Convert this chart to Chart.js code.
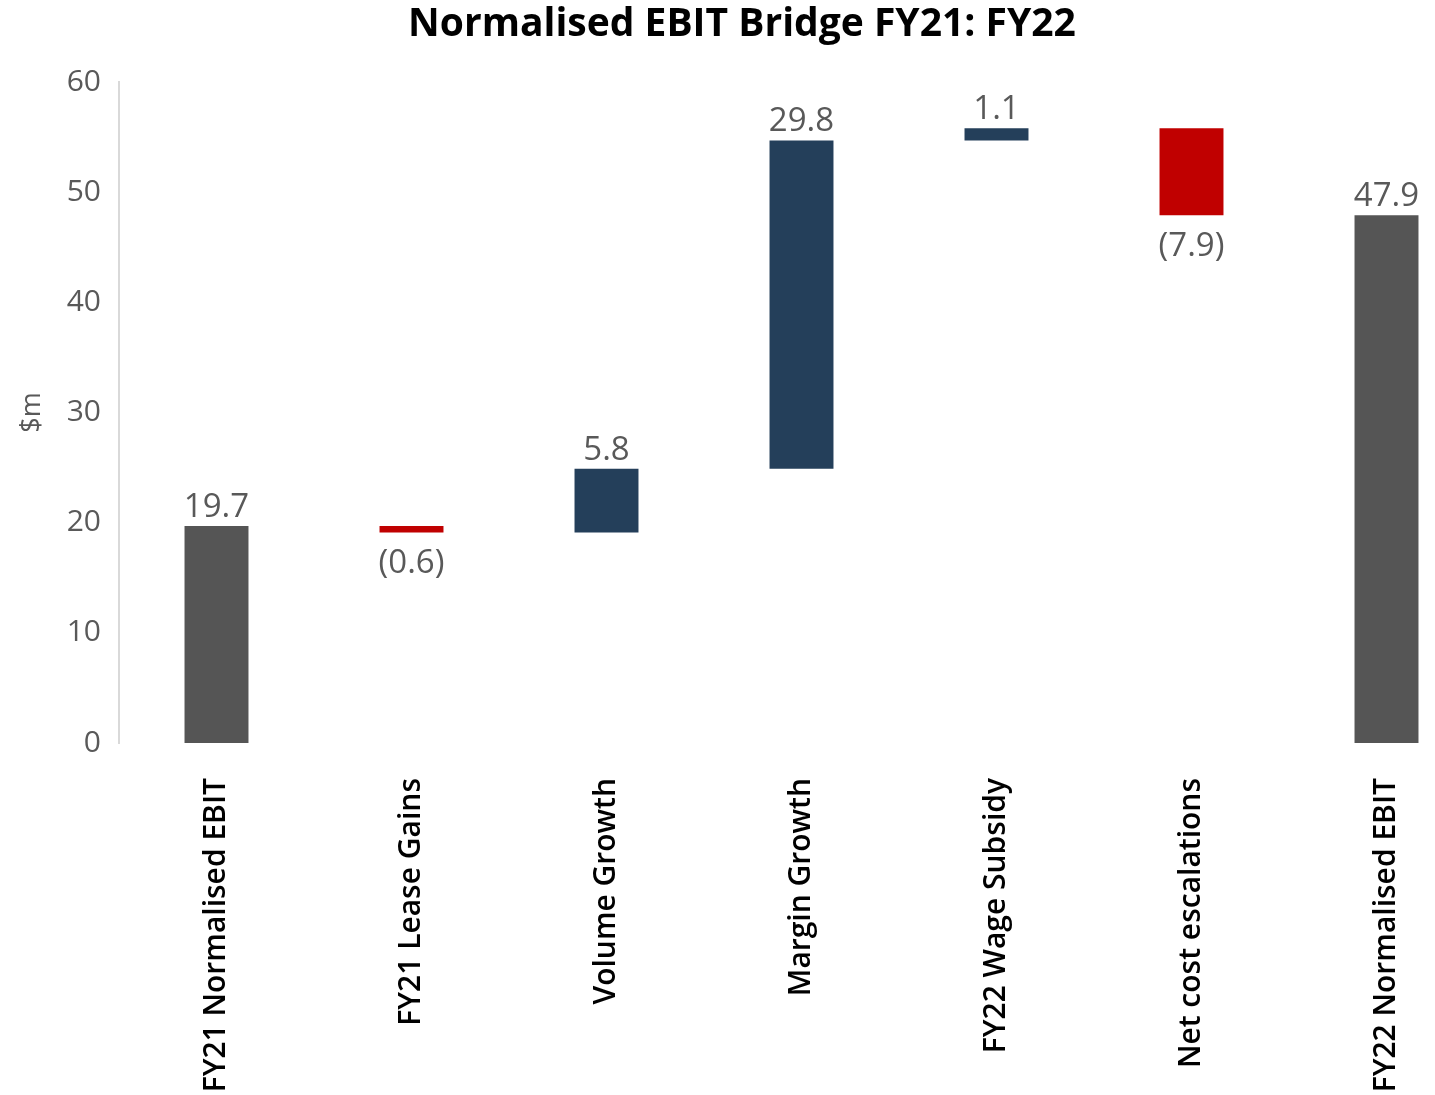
<!DOCTYPE html>
<html>
<head>
<meta charset="utf-8">
<title>Normalised EBIT Bridge FY21: FY22</title>
<script src="https://cdn.jsdelivr.net/npm/chart.js@4"></script>
<style>
  html, body { margin: 0; padding: 0; background: #fff; overflow: hidden; }
  #wrap { width: 1435px; height: 1095px; overflow: hidden; }
</style>
</head>
<body>
<div id="wrap">
  <canvas id="js-bridge-chart" width="1496" height="1095"></canvas>
</div>
<script>
// Chart data
const categories = [
  'FY21 Normalised EBIT',
  'FY21 Lease Gains',
  'Volume Growth',
  'Margin Growth',
  'FY22 Wage Subsidy',
  'Net cost escalations',
  'FY22 Normalised EBIT'
];
const changes = [19.7, -0.6, 5.8, 29.8, 1.1, -7.9, 47.9];
const isTotal = [true, false, false, false, false, false, true];
const yTicks = [0, 10, 20, 30, 40, 50, 60];

// Colors: totals grey, increases navy, decreases red
const totalColor = '#555555';
const upColor = '#243F5A';
const downColor = '#C00000';
const textGrey = '#595959';
const fontFamily = "'Open Sans', 'Noto Sans', sans-serif";

// Build floating [start, end] pairs for the waterfall
let running = 0;
const floating = changes.map((v, i) => {
  if (isTotal[i]) {
    running = v;
    return [0, v];
  }
  const start = running;
  running = start + v;
  return [start, running];
});
const barColors = changes.map((v, i) => isTotal[i] ? totalColor : (v < 0 ? downColor : upColor));
const valueLabels = changes.map((v) => v < 0 ? '(' + Math.abs(v).toFixed(1) + ')' : v.toFixed(1));

// Value labels above rises, below falls
const valueLabelPlugin = {
  id: 'valueLabels',
  afterDatasetsDraw(chart) {
    const ctx = chart.ctx;
    const meta = chart.getDatasetMeta(0);
    ctx.save();
    ctx.font = '33px ' + fontFamily;
    ctx.fillStyle = textGrey;
    ctx.textAlign = 'center';
    meta.data.forEach((bar, i) => {
      const top = Math.min(bar.y, bar.base);
      const bottom = Math.max(bar.y, bar.base);
      if (changes[i] < 0) {
        ctx.textBaseline = 'top';
        ctx.fillText(valueLabels[i], bar.x, bottom + 15);
      } else {
        ctx.textBaseline = 'bottom';
        ctx.fillText(valueLabels[i], bar.x, top - 2);
      }
    });
    ctx.restore();
  }
};

const bridgeContext = document.getElementById('js-bridge-chart').getContext('2d');

const bridgeChart = new Chart(bridgeContext, {
  type: 'bar',
  data: {
    labels: categories,
    datasets: [
      {
        data: floating,
        backgroundColor: barColors,
        borderWidth: 0,
        barPercentage: 1,
        categoryPercentage: 0.328,
      },
    ],
  },
  options: {
    responsive: false,
    animation: false,
    layout: { padding: { left: 0, right: 12, top: 0, bottom: 0 } },
    plugins: {
      legend: { display: false },
      tooltip: { enabled: false },
      title: {
        display: true,
        text: 'Normalised EBIT Bridge FY21: FY22',
        color: '#000000',
        font: { family: fontFamily, size: 39, weight: 'bold', lineHeight: 1.2 },
        padding: { top: 1, bottom: 34.2 },
      },
    },
    scales: {
      x: {
        grid: { display: false, drawTicks: false },
        border: { display: false },
        ticks: {
          color: '#000000',
          font: { family: fontFamily, size: 30, weight: '600' },
          minRotation: 90,
          maxRotation: 90,
          autoSkip: false,
          padding: 35,
        },
        afterFit(scale) { scale.height = 352; },
      },
      y: {
        min: 0,
        max: 60,
        afterBuildTicks(scale) { scale.ticks = yTicks.map((v) => ({ value: v })); },
        grid: { display: false, drawTicks: false },
        border: { display: true, color: '#D9D9D9', width: 2 },
        ticks: {
          color: textGrey,
          font: { family: fontFamily, size: 30 },
          padding: 18,
        },
        title: {
          display: true,
          text: '$m',
          color: textGrey,
          font: { family: fontFamily, size: 27 },
          padding: { top: 15.8, bottom: 0 },
        },
        afterFit(scale) { scale.width = 119; },
      },
    },
  },
  plugins: [valueLabelPlugin],
});
</script>
</body>
</html>
